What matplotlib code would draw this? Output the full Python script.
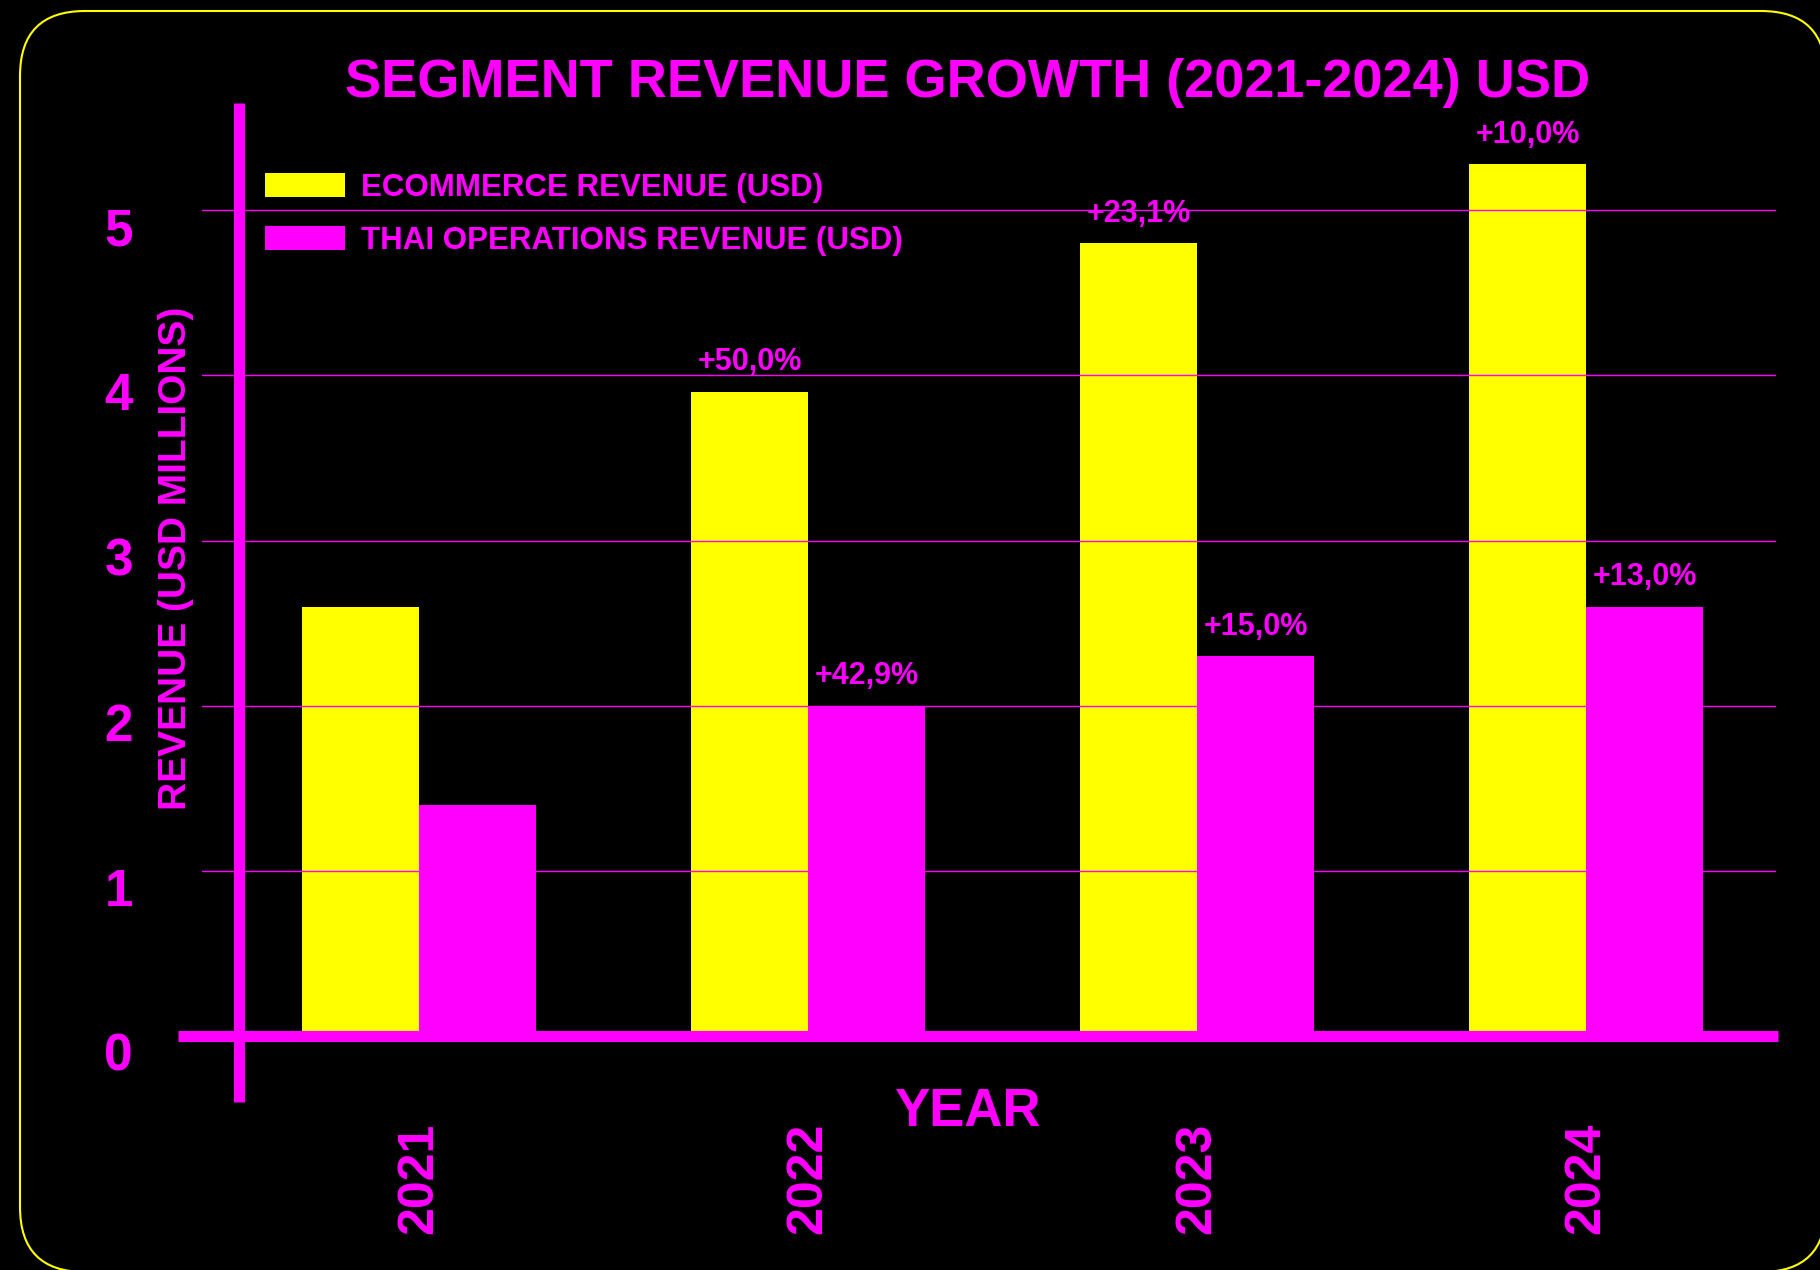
import matplotlib
matplotlib.use('Agg')
import matplotlib.pyplot as plt
import matplotlib.transforms as mtransforms
from matplotlib.patches import FancyBboxPatch
import numpy as np

years = ['2021', '2022', '2023', '2024']
ecommerce = [2.6, 3.9, 4.8, 5.28]
thai_ops = [1.4, 2.0, 2.3, 2.6]
yticks = [0, 1, 2, 3, 4, 5]

MAGENTA = '#ff00ff'
YELLOW = '#ffff00'

plt.rcParams['font.family'] = ['Liberation Sans', 'DejaVu Sans']
plt.rcParams['font.weight'] = 'bold'


def growth_labels(vals):
    # year over year growth, comma as decimal sep
    out = []
    for i in range(1, len(vals)):
        g = (vals[i] / vals[i - 1] - 1) * 100
        out.append('+' + f'{g:.1f}'.replace('.', ',') + '%')
    return out


fig = plt.figure(figsize=(18.2, 12.7), dpi=100, facecolor='black')
ax = fig.add_axes([0.111, 0.1323, 0.8648, 0.7866])
ax.set_facecolor('black')

x = np.arange(len(years))
w = 0.3
ax.bar(x - w / 2, ecommerce, w, color=YELLOW, label='ECOMMERCE REVENUE (USD)', zorder=1)
ax.bar(x + w / 2, thai_ops, w, color=MAGENTA, label='THAI OPERATIONS REVENUE (USD)', zorder=1)

for i, txt in enumerate(growth_labels(ecommerce), start=1):
    ax.annotate(txt, (x[i] - w / 2, ecommerce[i]), xytext=(0, 10.5), textcoords='offset points',
                ha='center', va='bottom', fontsize=22, color=MAGENTA, fontweight='bold', zorder=2)
for i, txt in enumerate(growth_labels(thai_ops), start=1):
    ax.annotate(txt, (x[i] + w / 2, thai_ops[i]), xytext=(0, 10.5), textcoords='offset points',
                ha='center', va='bottom', fontsize=22, color=MAGENTA, fontweight='bold', zorder=2)

ax.set_xlim(-0.558, 3.488)
ax.set_ylim(-0.4, 5.65)

for s in ['top', 'right', 'bottom']:
    ax.spines[s].set_visible(False)
ax.spines['left'].set_position(('axes', 0.0232))
ax.spines['left'].set_color(MAGENTA)
ax.spines['left'].set_linewidth(8)
ax.spines['left'].set_capstyle('butt')

ax.axhline(0, xmin=-0.0152, xmax=1.0013, color=MAGENTA, lw=8, clip_on=False, zorder=3,
           solid_capstyle='butt')

ax.set_yticks(yticks)
ax.tick_params(axis='y', length=0, pad=76, labelsize=37, labelcolor=MAGENTA)
offset = mtransforms.ScaledTranslation(0, -0.16, fig.dpi_scale_trans)
for lab in ax.get_yticklabels():
    lab.set_transform(lab.get_transform() + offset)

ax.set_xticks(x, years)
ax.tick_params(axis='x', length=0, pad=15, labelsize=36, labelrotation=90, labelcolor=MAGENTA)

ax.yaxis.grid(True, color=MAGENTA, lw=1.0)
ax.xaxis.grid(False)
ax.set_axisbelow(False)

ax.set_ylabel('REVENUE (USD MILLIONS)', fontsize=28, color=MAGENTA, fontweight='bold')
ax.yaxis.set_label_coords(-0.0048, 0.5445)

ax.legend(loc='upper left', bbox_to_anchor=(0.040, 0.930), frameon=False,
          prop={'size': 22.5, 'weight': 'bold'}, labelcolor=MAGENTA,
          handlelength=2.56, handleheight=0.81, handletextpad=0.5,
          labelspacing=0.74, borderaxespad=0, borderpad=0)

fig.text(0.5316, 0.9234, 'SEGMENT REVENUE GROWTH (2021-2024) USD', ha='center', va='baseline',
         fontsize=39, color=MAGENTA, fontweight='bold')
fig.text(0.5316, 0.1134, 'YEAR', ha='center', va='baseline',
         fontsize=38, color=MAGENTA, fontweight='bold')

# rounded yellow frame, partly running off the canvas on the right and bottom
border = FancyBboxPatch((0.20, -0.02), 18.06, 12.61, boxstyle='round,pad=0,rounding_size=0.65',
                        transform=fig.dpi_scale_trans, facecolor='black', edgecolor=YELLOW,
                        lw=1.5, zorder=-1)
fig.add_artist(border)

fig.savefig('out.png', dpi=100, facecolor='black')
